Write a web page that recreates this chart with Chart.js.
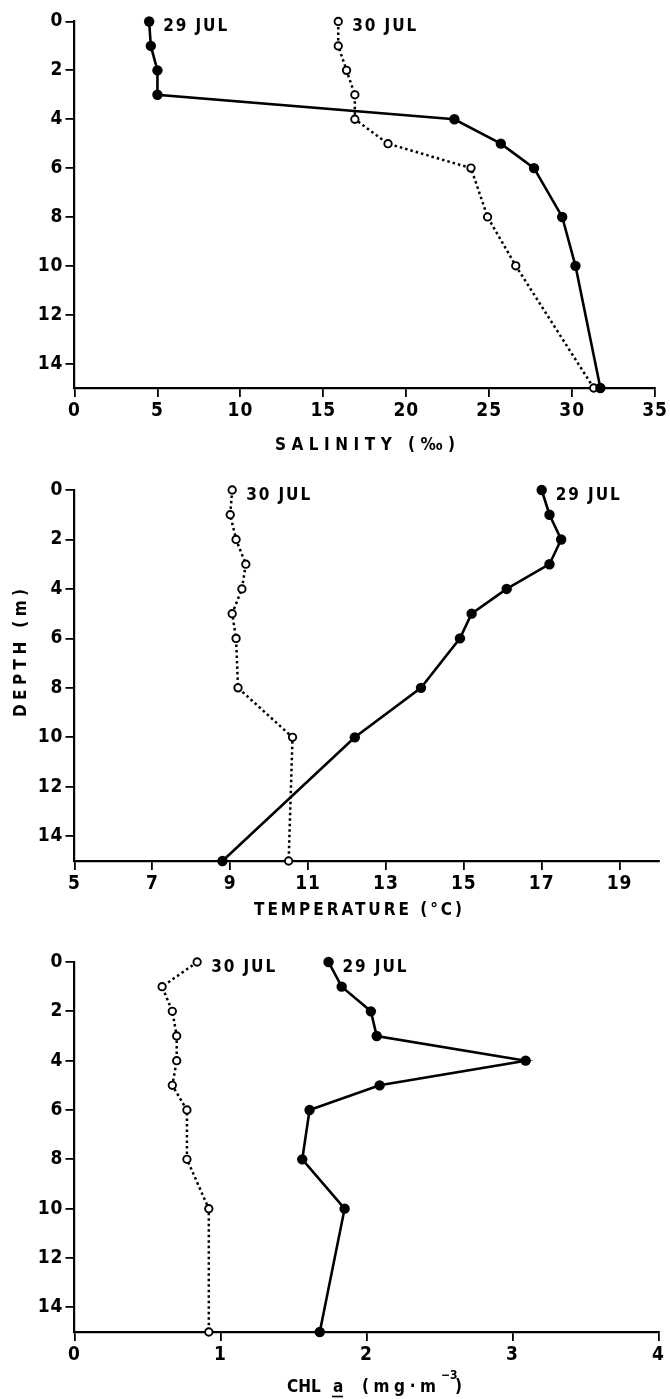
<!DOCTYPE html>
<html>
<head>
<meta charset="utf-8">
<script src="https://cdn.jsdelivr.net/npm/chart.js@4.4.1/dist/chart.umd.min.js"></script>
<style>
html, body { margin: 0; padding: 0; background: #fff; }
#wrap { position: relative; width: 670px; height: 1399px; background: #fff; }
canvas { position: absolute; left: 0; }
</style>
</head>
<body>
<div id="wrap">
  <canvas id="c1" width="670" height="465" style="top:0px;width:670px;height:465px"></canvas>
  <canvas id="c2" width="670" height="465" style="top:465px;width:670px;height:465px"></canvas>
  <canvas id="c3" width="670" height="469" style="top:930px;width:670px;height:469px"></canvas>
</div>
<script>
// ---------- data ----------
const depths = [0, 1, 2, 3, 4, 5, 6, 8, 10, 15];
const depthTicks = [0, 2, 4, 6, 8, 10, 12, 14];
const seriesNames = ['29 JUL', '30 JUL'];

const salinityTicks = [0, 5, 10, 15, 20, 25, 30, 35];
const salinity29Jul = [4.5, 4.6, 5.0, 5.0, 22.9, 25.7, 27.7, 29.4, 30.2, 31.7];
const salinity30Jul = [15.9, 15.9, 16.4, 16.9, 16.9, 18.9, 23.9, 24.9, 26.6, 31.3];

const temperatureTicks = [5, 7, 9, 11, 13, 15, 17, 19];
const temperature29Jul = [17.0, 17.2, 17.5, 17.2, 16.1, 15.2, 14.9, 13.9, 12.2, 8.8];
const temperature30Jul = [9.05, 9.0, 9.15, 9.4, 9.3, 9.05, 9.15, 9.2, 10.6, 10.5];

const chlTicks = [0, 1, 2, 3, 4];
const chl29Jul = [1.74, 1.83, 2.03, 2.07, 3.09, 2.09, 1.61, 1.56, 1.85, 1.68];
const chl30Jul = [0.84, 0.60, 0.67, 0.70, 0.70, 0.67, 0.77, 0.77, 0.92, 0.92];

const xTitles = ['SALINITY (‰)', 'TEMPERATURE (°C)'];
const yTitle = 'DEPTH (m)';

// ---------- drawing helpers ----------
const FONT = '"DejaVu Sans Condensed", "DejaVu Sans", sans-serif';
const WEIGHT = 'bold';

function drawSpaced(ctx, text, x, y, size, width) {
  ctx.save();
  ctx.font = WEIGHT + ' ' + size + 'px ' + FONT;
  ctx.letterSpacing = '0px';
  const w = ctx.measureText(text).width;
  const n = [...text].length;
  const sp = n > 1 ? Math.max(0, (width - w) / (n - 1)) : 0;
  ctx.letterSpacing = sp + 'px';
  ctx.textAlign = 'left';
  ctx.textBaseline = 'alphabetic';
  ctx.fillStyle = '#000';
  ctx.fillText(text, x, y);
  ctx.restore();
}

function axisStyle(ticks, min, max, fitSize, isY, labelPad) {
  return {
    type: 'linear',
    min: min,
    max: max,
    reverse: isY,
    position: isY ? 'left' : 'bottom',
    afterBuildTicks: s => { s.ticks = ticks.map(v => ({ value: v })); },
    afterFit: s => { if (isY) s.width = fitSize; else s.height = fitSize; },
    grid: { drawOnChartArea: false, drawTicks: true, tickLength: 9, color: '#000', lineWidth: 1.8 },
    border: { display: true, color: '#000', width: 2.2 },
    ticks: {
      color: '#000',
      font: { family: FONT, size: 19, weight: WEIGHT },
      padding: labelPad,
      autoSkip: false,
      maxRotation: 0,
      callback: v => String(v)
    },
    title: { display: false }
  };
}

const spacingPlugin = {
  id: 'tickSpacing',
  beforeDraw(chart) { chart.ctx.letterSpacing = '1px'; },
  afterDraw(chart) { chart.ctx.letterSpacing = '0px'; }
};

function makePanel(id, v29, v30, xTicks, xMin, xMax, topPad, xAxisH, drawExtra) {
  const textPlugin = {
    id: 'annotate_' + id,
    afterDatasetsDraw(chart) {
      const ctx = chart.ctx;
      chart.data.datasets.forEach((ds, i) => {
        const pt = chart.getDatasetMeta(i).data[0];
        drawSpaced(ctx, ds.label, pt.x + 14, pt.y + 9.5, 17, 64);
      });
      drawExtra(ctx);
    }
  };
  return new Chart(document.getElementById(id), {
    type: 'scatter',
    data: {
      datasets: [
        {
          label: seriesNames[0],
          data: depths.map((d, i) => ({ x: v29[i], y: d })),
          showLine: true,
          borderColor: '#000',
          borderWidth: 2.6,
          pointRadius: 5.2,
          pointBackgroundColor: '#000',
          pointBorderColor: '#000',
          pointBorderWidth: 0,
          clip: false
        },
        {
          label: seriesNames[1],
          data: depths.map((d, i) => ({ x: v30[i], y: d })),
          showLine: true,
          borderColor: '#000',
          borderWidth: 2.5,
          borderDash: [2.5, 3],
          borderCapStyle: 'butt',
          pointRadius: 3.7,
          pointBackgroundColor: '#fff',
          pointBorderColor: '#000',
          pointBorderWidth: 1.9,
          clip: false
        }
      ]
    },
    options: {
      responsive: false,
      animation: false,
      devicePixelRatio: 1,
      layout: { padding: { top: topPad, left: 0, right: 11.5, bottom: 0 } },
      plugins: {
        legend: { display: false },
        tooltip: { enabled: false }
      },
      scales: {
        x: axisStyle(xTicks, xMin, xMax, xAxisH, false, 3),
        y: axisStyle(depthTicks, 0, 15, 74.5, true, 2)
      }
    },
    plugins: [spacingPlugin, textPlugin]
  });
}

// ---------- panels ----------
makePanel('c1', salinity29Jul, salinity30Jul, salinityTicks, 0, 35, 21.5, 77, (ctx) => {
  drawSpaced(ctx, xTitles[0], 275, 450, 17, 180);
});

makePanel('c2', temperature29Jul, temperature30Jul, temperatureTicks, 5, 20, 25, 69, (ctx) => {
  drawSpaced(ctx, xTitles[1], 254, 450, 17, 208);
  ctx.save();
  ctx.translate(19, 187.5);
  ctx.rotate(-Math.PI / 2);
  drawSpaced(ctx, yTitle, -64.5, 6.5, 17, 128);
  ctx.restore();
});

makePanel('c3', chl29Jul, chl30Jul, chlTicks, 0, 4, 32, 67, (ctx) => {
  drawSpaced(ctx, 'CHL', 287, 462, 17, 28);
  drawSpaced(ctx, 'a', 333, 462, 17, 9);
  ctx.save();
  ctx.strokeStyle = '#000';
  ctx.lineWidth = 1.6;
  ctx.beginPath();
  ctx.moveTo(332, 466.5);
  ctx.lineTo(343, 466.5);
  ctx.stroke();
  ctx.restore();
  drawSpaced(ctx, '(mg·m', 362, 462, 17, 74);
  drawSpaced(ctx, '−3', 441, 449, 12, 10);
  drawSpaced(ctx, ')', 455, 462, 17, 6);
});
</script>
</body>
</html>
